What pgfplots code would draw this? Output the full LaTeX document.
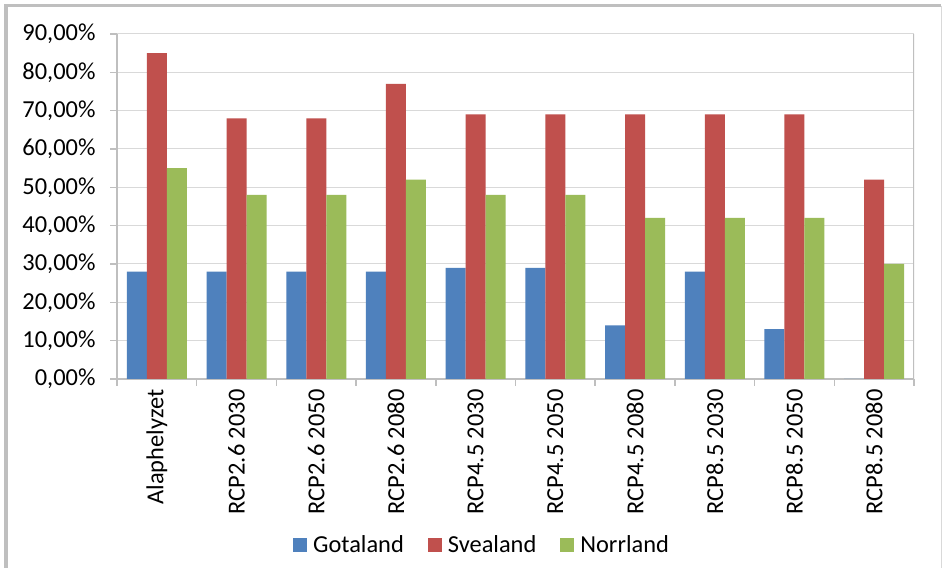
\documentclass[border=0pt]{standalone}
\usepackage{fontspec}
\setmainfont{Carlito}
\usepackage{pgfplots}
\pgfplotsset{compat=1.18}
\definecolor{cG}{HTML}{4F81BD}
\definecolor{cS}{HTML}{C0504D}
\definecolor{cN}{HTML}{9BBB59}
\definecolor{gridc}{HTML}{D9D9D9}
\definecolor{axc}{HTML}{BFBFBF}
\pgfplotsset{sqlegend/.style={legend image code/.code={\fill[##1,draw=none] (0bp,-7bp) rectangle (14bp,7bp);}}}
\begin{document}
\begin{tikzpicture}[x=1bp,y=1bp]
\useasboundingbox (0,0) rectangle (942,568);
\fill[white] (0,0) rectangle (942,568);
\draw[axc, line width=3.5bp] (6,-5) -- (6,562.5) -- (941,562.5);
\draw[gridc, line width=1bp] (941.5,562) -- (941.5,-5);
\begin{axis}[
  at={(117bp,189bp)}, anchor=south west,
  scale only axis, width=797bp, height=345bp,
  xmin=-0.5, xmax=9.5, ymin=0, ymax=90,
  axis x line*=bottom, axis y line*=left,
  axis line style={axc, line width=1.5bp, -},
  ytick={0,10,...,90},
  yticklabels={{0,00\%},{10,00\%},{20,00\%},{30,00\%},{40,00\%},{50,00\%},{60,00\%},{70,00\%},{80,00\%},{90,00\%}},
  ymajorgrids, grid style={gridc, line width=1bp},
  xtick={0,...,9},
  xticklabels={Alaphelyzet,RCP2.6 2030,RCP2.6 2050,RCP2.6 2080,RCP4.5 2030,RCP4.5 2050,RCP4.5 2080,RCP8.5 2030,RCP8.5 2050,RCP8.5 2080},
  minor xtick={-0.5,0.5,...,9.5},
  tick align=outside,
  major tick length=7bp, minor tick length=7bp,
  y tick style={axc, line width=1.5bp},
  major x tick style={draw=none},
  minor x tick style={axc, line width=1.5bp},
  tick label style={font=\fontsize{24.5}{28}\selectfont},
  yticklabel style={anchor=east, xshift=-11bp},
  xticklabel style={rotate=90, anchor=east, yshift=0bp},
  ybar=0pt, bar width=20bp,
  legend style={at={(0.458,-0.481)}, anchor=center, draw=none, fill=none,
    legend columns=3, font=\fontsize{24.5}{28}\selectfont,
    /tikz/every odd column/.append style={column sep=4bp},
    /tikz/every even column/.append style={column sep=22bp}},
]
\addplot[fill=cG, draw=none, sqlegend] coordinates {(0,28) (1,28) (2,28) (3,28) (4,29) (5,29) (6,14) (7,28) (8,13) (9,0)};
\addplot[fill=cS, draw=none, sqlegend] coordinates {(0,85) (1,68) (2,68) (3,77) (4,69) (5,69) (6,69) (7,69) (8,69) (9,52)};
\addplot[fill=cN, draw=none, sqlegend] coordinates {(0,55) (1,48) (2,48) (3,52) (4,48) (5,48) (6,42) (7,42) (8,42) (9,30)};
\legend{Gotaland,Svealand,Norrland}
\draw[axc, line width=1.5bp] (rel axis cs:1,0) -- (rel axis cs:1,1);
\end{axis}
\end{tikzpicture}
\end{document}
